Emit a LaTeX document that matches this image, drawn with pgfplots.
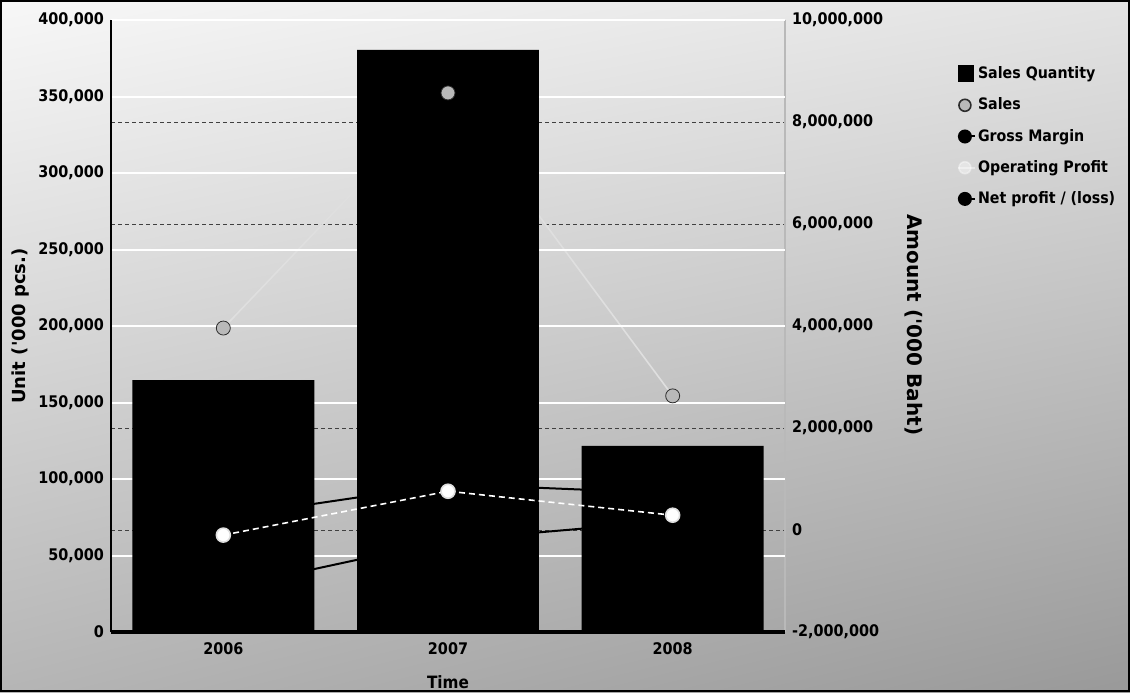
\documentclass[border=0pt]{standalone}
\usepackage{pgfplots}
\pgfplotsset{compat=1.18}
\usepackage{pgfplotstable}
\usetikzlibrary{shadings}
\usepackage{fontspec}
\setmainfont{DejaVu Sans}[FakeStretch=0.9]
\newfontfamily\labelfont{DejaVu Sans}

\pgfplotstableread{
x qty sales gm op np
0 164700 3960000 250000 -100000 -1150000
1 380400 8570000 900000 760000 -200000
2 121600 2630000 720000 290000 180000
}\data

\pgfplotsset{
  base/.style={
    at={(55.5pt,30pt)}, anchor=south west, scale only axis,
    width=337pt, height=306pt, xmin=-0.5, xmax=2.5, clip=false,
    tick label style={font=\fontsize{8}{9.6}\selectfont\bfseries},
    yticklabel style={/pgf/number format/.cd, fixed, 1000 sep={,}, assume math mode=true},
    scaled y ticks=false, major tick length=0pt, axis line style={-},
  },
  lgmark/.style={legend image code/.code={%
    \draw[mark repeat=2,mark phase=2,##1] plot coordinates {(0.02cm,0cm) (0.15cm,0cm) (0.32cm,0cm)};}},
}

\begin{document}
\begin{tikzpicture}
\shade[upper left=gray!6, upper right=gray!22, lower left=gray!58, lower right=gray!80] (0,0) rectangle (565pt,346pt);
\draw[line width=1pt] (0.5pt,0.5pt) rectangle (564.5pt,345.5pt);

% right axis: grid, tick labels, label, and the Sales line behind the bars
\begin{axis}[base,
  ymin=-2000000, ymax=10000000,
  ytick={-2000000,0,2000000,4000000,6000000,8000000,10000000},
  axis y line*=right, axis x line=none,
  ymajorgrids, grid style={dash pattern=on 2pt off 1.5pt, black!75, line width=0.5pt},
  y axis line style={gray!55, line width=0.6pt},
  every axis y label/.style={at={(rel axis cs:1.191,0.502)}, rotate=-90, anchor=center,
     font=\labelfont\fontsize{10}{12}\selectfont\bfseries},
  ylabel={Amount ('000 Baht)},
]
\addplot[gray!25, line width=0.8pt] table[x=x,y=sales]{\data};
\end{axis}

% left axis: bars
\begin{axis}[base,
  ymin=0, ymax=400000,
  ytick={0,50000,100000,150000,200000,250000,300000,350000,400000},
  axis y line*=left, axis x line*=bottom,
  ymajorgrids, grid style={white, line width=1pt},
  xtick={0,1,2}, xticklabels={2006,2007,2008},
  x axis line style={line width=2pt},
  y axis line style={line width=1pt},
  xticklabel style={yshift=-2pt},
  every axis x label/.style={at={(rel axis cs:0.5,-0.082)}, anchor=center,
     font=\fontsize{8.5}{10}\selectfont\bfseries},
  every axis y label/.style={at={(rel axis cs:-0.134,0.5)}, rotate=90, anchor=center,
     font=\labelfont\fontsize{9}{11}\selectfont\bfseries},
  xlabel={Time}, ylabel={Unit ('000 pcs.)},
]
\addplot[ybar, bar width=0.81, fill=black, draw=none] table[x=x,y=qty]{\data};
\end{axis}

% lines on the right-hand scale, and the legend
\begin{axis}[base,
  ymin=-2000000, ymax=10000000, axis lines=none,
  legend cell align=left,
  legend style={at={(rel axis cs:1.245,0.935)}, anchor=north west, draw=none, fill=none,
     font=\fontsize{7.9}{9}\selectfont\bfseries, row sep=5.7pt,
     nodes={inner sep=1.2pt}},
]
\addplot[black, line width=1pt, mark=*, mark size=3.5pt, forget plot] table[x=x,y=gm]{\data};
\addplot[black, line width=1pt, mark=*, mark size=3.5pt, forget plot] table[x=x,y=np]{\data};
\addplot[only marks, mark=*, mark size=3.5pt, mark options={fill=gray!55, draw=gray!35!black}, forget plot] table[x=x,y=sales]{\data};
\addplot[white, line width=0.8pt, dash pattern=on 3pt off 2pt, mark=*, mark size=3.5pt,
   mark options={solid, fill=white, draw=gray!25}, forget plot] table[x=x,y=op]{\data};

\addlegendimage{legend image code/.code={\fill[black] (0.04cm,-0.13cm) rectangle (0.3cm,0.15cm);}}
\addlegendentry{Sales Quantity}
\addlegendimage{lgmark, gray!30, line width=0.8pt, mark=*, mark size=3pt, mark options={fill=gray!55, draw=gray!35!black}}
\addlegendentry{Sales}
\addlegendimage{lgmark, black, line width=1pt, mark=*, mark size=3pt}
\addlegendentry{Gross Margin}
\addlegendimage{lgmark, white, line width=0.8pt, mark=*, mark size=3pt, mark options={fill=white, draw=white}, opacity=0.4}
\addlegendentry{Operating Profit}
\addlegendimage{lgmark, black, line width=1pt, mark=*, mark size=3pt}
\addlegendentry{Net profit / (loss)}
\end{axis}
\end{tikzpicture}
\end{document}
